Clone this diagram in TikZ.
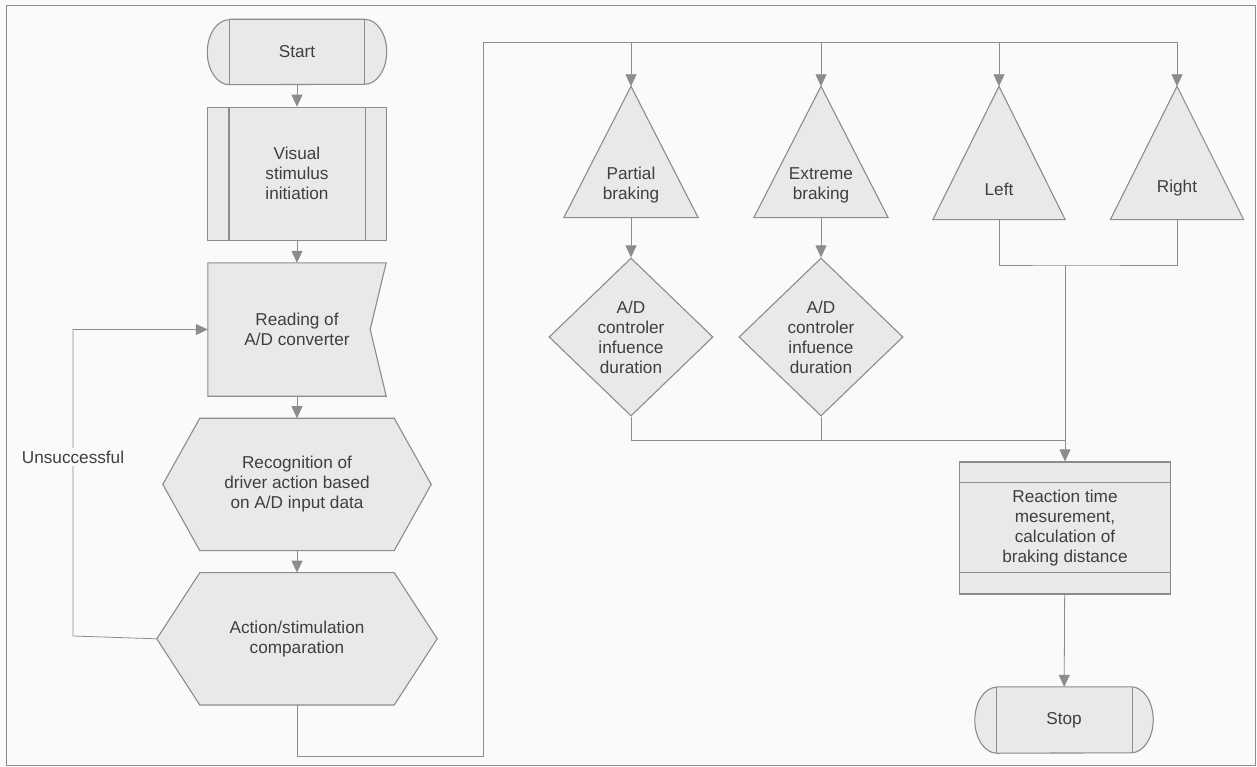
\documentclass[tikz,border=0pt]{standalone}
\usepackage{fontspec}
\setmainfont{Liberation Sans}
\usetikzlibrary{arrows.meta, positioning, shapes.geometric}
\definecolor{linegray}{HTML}{8C8C8C}
\definecolor{boxfill}{HTML}{E9E9E9}
\definecolor{textgray}{HTML}{3F3F3F}
\definecolor{pagebg}{HTML}{FAFAFA}
\pgfdeclarelayer{background}
\pgfsetlayers{background,main}
\tikzset{
  plainbox/.style={
    align=center, text=textgray, inner sep=0pt,
    font=\fontsize{17.2}{20}\selectfont
  },
  flowbox/.style={plainbox, draw=linegray, fill=boxfill, line width=1.1pt},
  outline/.style={draw=linegray, fill=boxfill, line width=1.1pt},
  bar/.style={draw=linegray, line width=1.1pt},
  ln/.style={draw=linegray, line width=0.8pt},
  arr/.style={ln, -{Triangle[length=12pt, width=11pt]}}
}

\begin{document}
\begin{tikzpicture}[x=1pt, y=-1pt, node distance=22pt]
  \useasboundingbox (0,0) rectangle (1257,767);

  % main column
  \node[plainbox, minimum width=179, minimum height=65] (start) at (297,52) {Start};
  \node[flowbox, minimum width=179, minimum height=133, below=of start] (visual) {Visual\\stimulus\\initiation};
  \node[plainbox, minimum width=178, minimum height=133, below=of visual] (read) {Reading of\\A/D converter};
  \node[plainbox, minimum width=268, minimum height=132, below=of read] (recog) {Recognition of\\driver action based\\on A/D input data};
  \node[plainbox, minimum width=280, minimum height=132, below=of recog] (action) {Action/stimulation\\comparation};

  % braking and steering stimuli
  \node[plainbox, minimum width=134, minimum height=131] (partial) at (631,152) {};
  \node[plainbox] (partialtxt) at ([yshift=-33pt]partial.center) {Partial\\braking};
  \node[plainbox, minimum width=134, minimum height=131] (extreme) at (821,152) {};
  \node[plainbox] (extremetxt) at ([yshift=-33pt]extreme.center) {Extreme\\braking};
  \node[plainbox, minimum width=132, minimum height=133] (steerleft) at (999,153) {};
  \node[plainbox] (steerlefttxt) at ([yshift=-36pt]steerleft.center) {Left};
  \node[plainbox, minimum width=133, minimum height=133] (steerright) at (1177,153) {};
  \node[plainbox] (steerrighttxt) at ([yshift=-35pt]steerright.center) {Right};

  \node[flowbox, diamond, minimum width=164, minimum height=158] (partialdur) at (631,337) {A/D\\controler\\infuence\\duration};
  \node[flowbox, diamond, minimum width=164, minimum height=158] (extremedur) at (821,337) {A/D\\controler\\infuence\\duration};

  \node[flowbox, minimum width=211, minimum height=132] (reaction) at (1065,528) {Reaction time\\mesurement,\\calculation of\\braking distance};
  \node[plainbox, minimum width=178, minimum height=66] (stop) at (1064,720) {Stop};

  % outlines behind the texts
  \begin{pgfonlayer}{background}
    \fill[pagebg] (0,0) rectangle (1257,767);
    \draw[outline] ([xshift=22pt]start.north west) -- ([xshift=-22pt]start.north east)
      arc[start angle=90, end angle=-90, x radius=22pt, y radius=32.5pt]
      -- ([xshift=22pt]start.south west)
      arc[start angle=270, end angle=90, x radius=22pt, y radius=32.5pt] -- cycle;
    \draw[outline] ([xshift=22pt]stop.north west) -- ([xshift=-22pt]stop.north east)
      arc[start angle=90, end angle=-90, x radius=22pt, y radius=33pt]
      -- ([xshift=22pt]stop.south west)
      arc[start angle=270, end angle=90, x radius=22pt, y radius=33pt] -- cycle;
    \draw[outline] (read.north west) -- (read.north east) -- ([xshift=-16pt]read.east)
      -- (read.south east) -- (read.south west) -- cycle;
    \draw[outline] ([xshift=37pt]recog.north west) -- ([xshift=-37pt]recog.north east) -- (recog.east)
      -- ([xshift=-37pt]recog.south east) -- ([xshift=37pt]recog.south west) -- (recog.west) -- cycle;
    \draw[outline] ([xshift=43pt]action.north west) -- ([xshift=-43pt]action.north east) -- (action.east)
      -- ([xshift=-43pt]action.south east) -- ([xshift=43pt]action.south west) -- (action.west) -- cycle;
    \foreach \n in {partial, extreme, steerleft, steerright}
      \draw[outline] (\n.north) -- (\n.south east) -- (\n.south west) -- cycle;
  \end{pgfonlayer}

  % inner bars
  \draw[bar] ([xshift=22pt]start.north west) -- ([xshift=22pt]start.south west);
  \draw[bar] ([xshift=-22pt]start.north east) -- ([xshift=-22pt]start.south east);
  \draw[bar] ([xshift=22pt]visual.north west) -- ([xshift=22pt]visual.south west);
  \draw[bar] ([xshift=-22pt]visual.north east) -- ([xshift=-22pt]visual.south east);
  \draw[bar] ([xshift=22pt]stop.north west) -- ([xshift=22pt]stop.south west);
  \draw[bar] ([xshift=-21pt]stop.north east) -- ([xshift=-21pt]stop.south east);
  \draw[bar] ([yshift=-21pt]reaction.north west) -- ([yshift=-21pt]reaction.north east);
  \draw[bar] ([yshift=22pt]reaction.south west) -- ([yshift=22pt]reaction.south east);

  % frame
  \draw[linegray, line width=1pt] (6,6) rectangle (1255,765);

  % connectors
  \draw[arr] (start) -- (visual);
  \draw[arr] (visual) -- (read);
  \draw[arr] (read) -- (recog);
  \draw[arr] (recog) -- (action);

  \coordinate (loop) at (73,636);
  \draw[arr] (action.west) -- (loop) |- (read.west);
  \node[plainbox, fill=pagebg, inner sep=3pt] (unsucc) at (73,457) {Unsuccessful};

  \coordinate (busbottom) at (483,756);
  \coordinate (bustop) at (483,42);
  \draw[ln] (action.south) |- (busbottom) -- (bustop) -- (bustop -| steerright.north);
  \foreach \n in {partial, extreme, steerleft, steerright}
    \draw[arr] (bustop -| \n.north) -- (\n.north);

  \draw[arr] (partial.south) -- (partialdur.north);
  \draw[arr] (extreme.south) -- (extremedur.north);

  \coordinate (brakebus) at (1065,440);
  \draw[ln] (partialdur.south) |- (brakebus);
  \draw[ln] (extremedur.south) -- (extremedur.south |- brakebus);

  \coordinate (steerbus) at (1065,265);
  \draw[ln] (steerleft.south) |- (steerbus) -| (steerright.south);
  \draw[arr] (steerbus) -- (reaction.north);
  \draw[arr] (reaction) -- (stop);
\end{tikzpicture}
\end{document}
